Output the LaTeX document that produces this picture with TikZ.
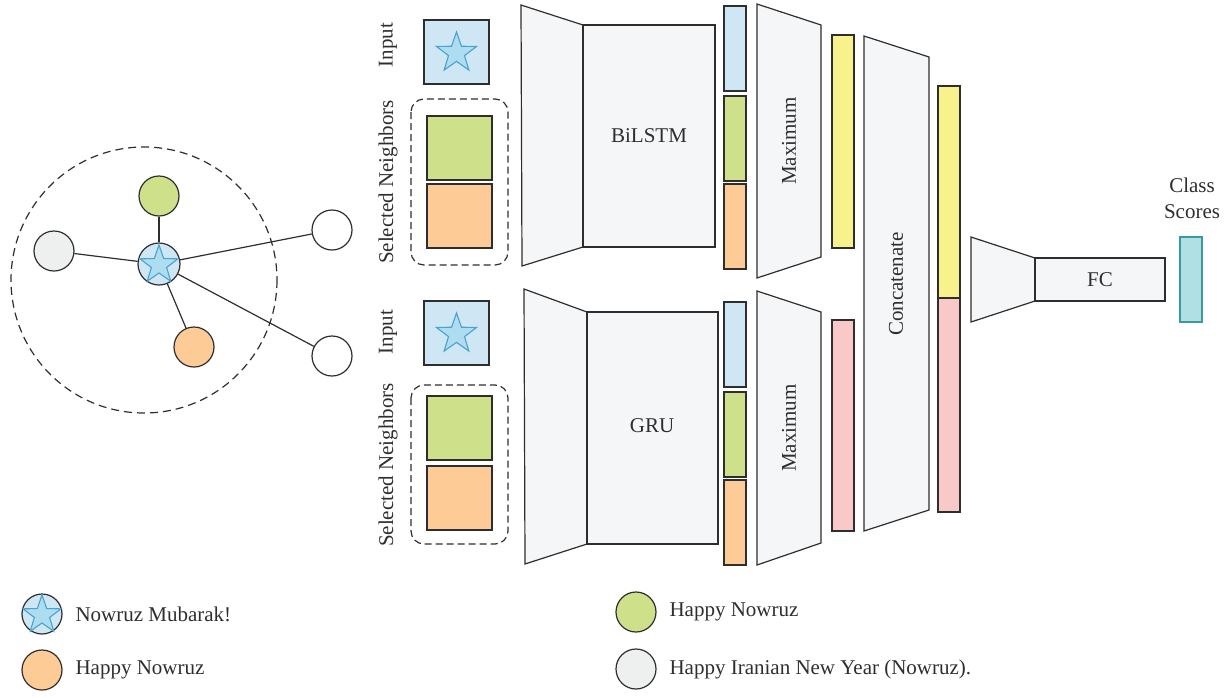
\documentclass[tikz,border=0pt]{standalone}
\usepackage{fontspec}
\setmainfont{Liberation Serif}
\usetikzlibrary{shapes.geometric}
\definecolor{lblue}{HTML}{CFE6F5}
\definecolor{sfill}{HTML}{AEDCF0}
\definecolor{sline}{HTML}{4AA3CC}
\definecolor{lgreen}{HTML}{CFE08A}
\definecolor{lorange}{HTML}{FDCB96}
\definecolor{lgray}{HTML}{EEF0EF}
\definecolor{lyellow}{HTML}{F7F28C}
\definecolor{lpink}{HTML}{F9C9C9}
\definecolor{tfill}{HTML}{F5F6F8}
\definecolor{teal1}{HTML}{B0E0E4}
\definecolor{teal2}{HTML}{3A9AA0}
\definecolor{ln}{HTML}{2E2E2E}
\begin{document}
\begin{tikzpicture}[x=1pt,y=-1pt,
  every node/.style={font=\fontsize{21}{23}\selectfont, text=ln},
  gnode/.style={circle, draw=ln, line width=1.2pt, minimum size=40pt, inner sep=0pt},
  snode/.style={star, star points=5, star point ratio=2.5, draw=sline, fill=sfill, line width=1.1pt, minimum size=40pt, inner sep=0pt},
  trap/.style={draw=ln, fill=tfill, line width=1.2pt},
  box/.style={draw=ln, line width=1.2pt},
  edge/.style={draw=ln, line width=1.2pt},
  dbox/.style={draw=ln, line width=1.2pt, dash pattern=on 7pt off 4pt, rounded corners=13pt}]
\useasboundingbox (0,0) rectangle (1228,697);

% ---------- graph ----------
\draw[ln, line width=1.2pt, dash pattern=on 8pt off 5pt] (144,280) circle (133);
\node[gnode, fill=lgreen] (g) at (159,196) {};
\node[gnode, fill=lgray] (a) at (54,251) {};
\node[gnode, fill=lorange] (o) at (194,347) {};
\node[gnode, fill=white] (w1) at (332,230) {};
\node[gnode, fill=white] (w2) at (332,356) {};
\node[gnode, fill=lblue, minimum size=42pt] (c) at (159,264) {};
\node[snode, minimum size=40pt] (cs) at (159,265) {};
\foreach \n in {g,a,o,w1,w2} \draw[edge] (c) -- (\n);

% ---------- top branch ----------
\node[rotate=90] (in1) at (388,45) {Input};
\node[rotate=90] (sn1) at (388,182) {Selected Neighbors};
\draw[box, fill=lblue] (424,20) rectangle (489,84);
\node[snode, minimum size=42pt] (st1) at (456.5,53) {};
\draw[dbox] (411,99) rectangle (508,265);
\draw[box, fill=lgreen] (427,116) rectangle (492,180);
\draw[box, fill=lorange] (427,184) rectangle (492,248);
\draw[trap] (521,5) -- (583,25) -- (583,247) -- (522,266) -- cycle;
\draw[trap] (583,25) rectangle (715,247);
\node (bilstm) at (649,136) {BiLSTM};
\draw[box, fill=lblue] (724,6) rectangle (746,91);
\draw[box, fill=lgreen] (724,96) rectangle (746,181);
\draw[box, fill=lorange] (724,184) rectangle (746,269);
\draw[trap] (757,4) -- (821,25) -- (821,257) -- (757,278) -- cycle;
\node[rotate=90] (max1) at (789,141) {Maximum};
\draw[box, fill=lyellow] (832,35) rectangle (854,248);

% ---------- bottom branch ----------
\node[rotate=90] (in2) at (388,332) {Input};
\node[rotate=90] (sn2) at (388,465) {Selected Neighbors};
\draw[box, fill=lblue] (424,301) rectangle (489,365);
\node[snode, minimum size=42pt] (st2) at (456.5,334) {};
\draw[dbox] (411,385) rectangle (508,544);
\draw[box, fill=lgreen] (427,396) rectangle (492,460);
\draw[box, fill=lorange] (427,466) rectangle (492,530);
\draw[trap] (524,289) -- (587,312) -- (587,544) -- (525,564) -- cycle;
\draw[trap] (587,312) rectangle (718,544);
\node (gru) at (652,426) {GRU};
\draw[box, fill=lblue] (724,302) rectangle (746,387);
\draw[box, fill=lgreen] (724,392) rectangle (746,477);
\draw[box, fill=lorange] (724,480) rectangle (746,565);
\draw[trap] (757,291) -- (821,312) -- (821,543) -- (757,565) -- cycle;
\node[rotate=90] (max2) at (789,428) {Maximum};
\draw[box, fill=lpink] (832,320) rectangle (854,531);

% ---------- concatenate ----------
\draw[trap] (864,36) -- (929,57) -- (929,510) -- (864,531) -- cycle;
\node[rotate=90] (cat) at (896,284) {Concatenate};
\draw[box, fill=lyellow] (938,86) rectangle (960,298);
\draw[box, fill=lpink] (938,298) rectangle (960,512);

% ---------- FC ----------
\draw[trap] (971,237) -- (1035,258) -- (1035,301) -- (971,322) -- cycle;
\draw[trap] (1035,258) rectangle (1165,301);
\node (fc) at (1100,280) {FC};
\draw[draw=teal2, line width=1.2pt, fill=teal1] (1180,237) rectangle (1202,322);
\node[align=center, font=\fontsize{21}{26}\selectfont] (cls) at (1192,198) {Class\\Scores};

% ---------- legend ----------
\node[gnode, fill=lblue] (l1) at (42,614) {};
\node[snode, minimum size=40pt] (l1s) at (42,615) {};
\node[anchor=west] (t1) at (72,614) {Nowruz Mubarak!};
\node[gnode, fill=lorange] (l2) at (42,670) {};
\node[anchor=west] (t2) at (72,670) {Happy Nowruz};
\node[gnode, fill=lgreen] (l3) at (636,612) {};
\node[anchor=west] (t3) at (666,612) {Happy Nowruz};
\node[gnode, fill=lgray] (l4) at (636,669) {};
\node[anchor=west] (t4) at (666,669) {Happy Iranian New Year (Nowruz).};
\end{tikzpicture}
\end{document}
